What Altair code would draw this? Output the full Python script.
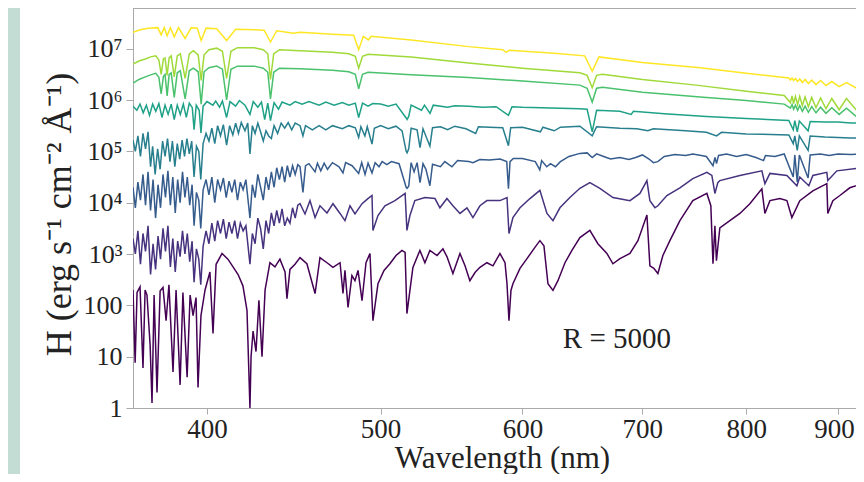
import altair as alt
import pandas as pd

# Each spectrum: [wavelength (nm), log10 H] pairs
s8_yellow = [[363.7,7.32],[367.0,7.37],[371.0,7.40],[375.5,7.41],[377.1,7.27],[378.6,7.41],[380.0,7.25],[381.6,7.41],[383.5,7.23],[385.6,7.41],[388.9,7.20],[392.0,7.41],[395.0,7.40],[397.0,7.16],[399.5,7.40],[405.0,7.39],[410.2,7.16],[415.0,7.38],[425.0,7.37],[430.5,7.36],[434.0,7.13],[437.5,7.35],[447.1,7.30],[450.8,7.32],[470.0,7.28],[483.0,7.26],[486.1,6.98],[489.0,7.24],[492.2,7.17],[494.0,7.24],[520.0,7.17],[560.0,7.04],[585.0,6.98],[587.6,6.93],[590.0,6.97],[625.0,6.91],[650.0,6.86],[656.3,6.56],[662.0,6.84],[700.0,6.73],[754.0,6.63],[800.0,6.52],[845.0,6.43],[846.7,6.39],[848.5,6.43],[850.2,6.38],[852.2,6.42],[854.6,6.36],[857.0,6.41],[859.8,6.34],[862.8,6.40],[866.5,6.32],[870.2,6.39],[875.0,6.30],[880.2,6.38],[886.3,6.28],[893.0,6.36],[901.5,6.26],[910.0,6.34],[922.9,6.22],[927.5,6.32],[930.8,6.32]]

s7_yellowgreen = [[363.7,6.70],[366.5,6.76],[369.5,6.80],[372.0,6.84],[374.5,6.86],[376.0,6.78],[377.1,6.50],[378.2,6.80],[379.0,6.82],[380.0,6.48],[381.0,6.82],[382.0,6.86],[383.5,6.45],[385.0,6.86],[386.5,6.90],[388.9,6.42],[391.0,6.90],[393.0,6.96],[395.5,6.88],[397.0,6.38],[398.5,6.88],[401.0,6.98],[405.0,7.01],[408.0,6.95],[410.2,6.42],[412.5,6.95],[416.0,7.02],[425.0,7.02],[430.0,6.98],[432.5,6.90],[434.0,6.40],[435.8,6.90],[439.0,6.98],[450.8,6.96],[470.0,6.93],[480.0,6.90],[484.0,6.85],[486.1,6.62],[488.5,6.85],[492.0,6.89],[520.0,6.84],[560.0,6.72],[600.0,6.62],[646.0,6.53],[652.0,6.48],[656.3,6.24],[660.0,6.48],[665.0,6.50],[700.0,6.40],[750.0,6.29],[800.0,6.17],[840.0,6.09],[846.7,5.95],[848.5,6.08],[850.2,5.93],[852.2,6.07],[854.6,5.91],[856.9,6.07],[859.8,5.89],[862.8,6.06],[866.5,5.87],[870.2,6.05],[875.0,5.85],[880.2,6.04],[886.3,5.83],[893.0,6.03],[901.5,5.81],[910.0,6.03],[922.9,5.78],[927.5,6.02],[930.8,6.02]]

s6_green = [[363.7,6.33],[366.5,6.40],[369.5,6.45],[372.0,6.49],[374.5,6.52],[376.0,6.44],[377.1,6.12],[378.2,6.46],[379.0,6.50],[380.0,6.08],[381.0,6.50],[382.0,6.53],[383.5,6.05],[385.0,6.53],[386.5,6.57],[388.9,6.02],[391.0,6.57],[393.0,6.62],[395.5,6.55],[397.0,5.92],[398.5,6.55],[401.0,6.63],[405.0,6.66],[408.0,6.60],[410.2,6.00],[412.5,6.60],[416.0,6.66],[425.0,6.66],[430.0,6.62],[432.5,6.54],[434.0,6.02],[435.8,6.54],[439.0,6.62],[450.8,6.61],[470.0,6.58],[480.0,6.55],[484.0,6.50],[486.1,6.22],[488.5,6.50],[492.0,6.54],[520.0,6.49],[560.0,6.44],[600.0,6.37],[646.0,6.29],[652.0,6.23],[656.3,5.96],[660.0,6.23],[665.0,6.25],[700.0,6.15],[754.0,6.06],[800.0,5.99],[840.0,5.92],[846.7,5.84],[848.5,5.91],[850.2,5.82],[852.2,5.90],[854.6,5.80],[856.9,5.89],[859.8,5.78],[862.8,5.88],[866.5,5.76],[870.2,5.87],[875.0,5.75],[880.2,5.86],[886.3,5.74],[893.0,5.85],[901.5,5.72],[910.0,5.84],[922.9,5.66],[927.5,5.83],[930.8,5.83]]

s5_tealgreen = [[363.7,5.88],[365.5,5.80],[367.0,5.92],[368.5,5.75],[370.0,5.90],[371.5,5.70],[373.0,5.92],[374.5,5.78],[376.0,5.93],[377.5,5.66],[379.0,5.90],[380.5,5.72],[382.0,5.92],[383.5,5.62],[385.0,5.90],[386.5,5.72],[388.0,5.92],[389.5,5.66],[391.0,5.94],[392.5,5.85],[393.4,5.42],[394.5,5.90],[396.0,5.80],[396.9,5.36],[398.0,5.88],[400.0,5.97],[403.0,5.90],[404.5,5.98],[406.5,5.86],[408.0,5.98],[410.2,5.66],[412.0,5.97],[415.0,5.88],[417.0,5.99],[420.0,5.90],[422.7,5.72],[424.5,5.97],[427.0,5.86],[429.0,5.96],[430.8,5.62],[432.5,5.94],[434.0,5.60],[436.0,5.95],[438.5,5.82],[440.5,5.96],[445.0,5.90],[448.0,5.97],[452.0,5.92],[456.0,5.97],[462.0,5.90],[466.0,5.96],[471.0,5.90],[476.0,5.95],[480.0,5.90],[484.0,5.94],[486.1,5.66],[488.5,5.94],[492.0,5.88],[495.0,5.93],[500.0,5.92],[505.0,5.88],[510.0,5.92],[516.7,5.65],[517.3,5.62],[518.4,5.68],[520.0,5.90],[527.0,5.80],[529.0,5.90],[532.8,5.74],[535.0,5.90],[545.0,5.86],[550.0,5.89],[560.0,5.88],[570.0,5.86],[580.0,5.87],[589.3,5.70],[592.0,5.87],[600.0,5.86],[615.0,5.85],[630.0,5.84],[646.0,5.83],[652.0,5.82],[656.3,5.38],[660.0,5.80],[680.0,5.78],[690.0,5.72],[692.0,5.78],[720.0,5.73],[760.0,5.68],[800.0,5.64],[845.0,5.60],[849.8,5.42],[851.5,5.60],[854.2,5.38],[856.5,5.59],[866.2,5.40],[868.5,5.58],[885.0,5.57],[900.0,5.57],[915.0,5.55],[930.8,5.55]]

s4_teal = [[363.7,5.22],[364.8,5.00],[366.0,5.30],[367.2,4.90],[368.4,5.35],[369.6,5.05],[370.8,5.38],[372.0,4.70],[373.0,5.10],[374.2,4.55],[375.4,5.05],[376.6,4.65],[377.8,5.20],[379.0,4.90],[380.2,5.25],[381.4,4.80],[382.6,5.20],[383.8,4.70],[385.0,5.15],[386.2,4.85],[387.4,5.22],[388.6,4.90],[389.8,5.25],[391.0,4.95],[392.2,5.20],[393.4,4.50],[394.6,5.10],[395.8,5.00],[396.8,4.45],[398.0,5.15],[399.5,5.35],[401.0,5.20],[402.5,5.45],[404.0,5.15],[405.5,5.50],[407.0,5.30],[408.5,5.52],[410.2,5.12],[411.8,5.50],[413.5,5.32],[415.0,5.55],[416.5,5.35],[418.0,5.56],[420.0,5.40],[421.5,5.55],[422.7,4.95],[424.0,5.50],[425.5,5.35],[427.0,5.55],[428.5,5.38],[430.0,5.20],[431.5,5.40],[433.0,5.30],[434.5,5.25],[436.0,5.50],[438.0,5.35],[440.0,5.55],[442.0,5.45],[444.0,5.56],[446.0,5.42],[448.0,5.55],[450.8,5.50],[452.5,5.30],[454.0,5.50],[458.0,5.42],[462.0,5.50],[466.0,5.42],[470.0,5.50],[476.0,5.44],[480.0,5.50],[484.0,5.46],[486.1,5.27],[487.5,5.48],[490.0,5.30],[491.5,5.48],[494.5,5.14],[496.0,5.45],[500.0,5.50],[505.0,5.44],[510.0,5.49],[514.0,5.40],[516.7,5.00],[517.3,4.97],[518.4,5.05],[520.0,5.45],[524.0,5.42],[526.0,5.07],[528.0,5.44],[532.7,5.10],[534.5,5.46],[540.0,5.48],[545.0,5.42],[550.0,5.49],[558.0,5.44],[565.0,5.35],[567.0,5.48],[575.0,5.47],[585.0,5.46],[589.3,5.11],[591.0,5.46],[600.0,5.47],[614.0,5.38],[616.0,5.47],[625.0,5.40],[630.0,5.47],[646.0,5.49],[656.3,5.30],[660.0,5.48],[680.0,5.45],[695.0,5.44],[705.0,5.40],[710.0,5.44],[740.0,5.40],[760.0,5.37],[770.0,5.30],[775.0,5.37],[800.0,5.34],[845.0,5.32],[849.8,5.15],[851.5,5.30],[854.2,5.02],[856.5,5.30],[866.2,5.02],[868.5,5.30],[885.0,5.28],[900.0,5.27],[915.0,5.26],[930.8,5.26]]

s3_blue = [[363.7,4.30],[364.8,3.90],[366.0,4.40],[367.2,4.05],[368.4,4.55],[369.6,3.95],[370.8,4.60],[372.0,3.85],[373.2,4.45],[374.4,3.70],[375.6,4.35],[376.8,3.90],[378.0,4.55],[379.2,4.10],[380.4,4.62],[381.6,3.95],[382.8,4.50],[384.0,3.80],[385.2,4.45],[386.4,4.00],[387.6,4.60],[388.8,4.10],[390.0,4.50],[391.2,3.95],[392.4,4.35],[393.4,3.55],[394.6,4.20],[395.8,4.05],[396.8,3.50],[398.0,4.25],[399.5,4.45],[401.0,4.15],[402.5,4.50],[404.0,4.00],[405.5,4.45],[407.0,4.25],[408.5,4.48],[410.0,4.10],[411.5,4.42],[413.0,4.20],[414.5,4.45],[416.0,4.05],[417.5,4.40],[419.0,4.25],[420.5,4.45],[422.7,3.70],[424.0,4.35],[425.5,4.10],[427.0,4.55],[428.5,4.30],[430.0,4.05],[431.5,4.50],[433.0,4.25],[434.5,4.60],[436.0,4.30],[437.5,4.68],[439.0,4.45],[440.5,4.70],[442.0,4.40],[443.5,4.72],[445.0,4.50],[446.5,4.72],[448.0,4.55],[449.5,4.74],[450.8,4.70],[452.5,4.20],[454.0,4.72],[456.0,4.76],[459.6,4.60],[461.0,4.77],[463.0,4.62],[465.0,4.77],[467.0,4.65],[470.0,4.78],[474.0,4.70],[476.4,4.58],[478.0,4.78],[482.0,4.72],[486.1,4.57],[488.0,4.78],[490.1,4.55],[492.0,4.77],[494.5,4.58],[496.5,4.78],[499.0,4.70],[501.0,4.80],[504.0,4.74],[507.0,4.80],[512.0,4.76],[516.7,4.30],[517.3,4.28],[518.4,4.32],[520.0,4.78],[522.0,4.60],[524.0,4.78],[526.0,4.39],[528.0,4.76],[530.0,4.65],[532.7,4.33],[534.5,4.75],[540.0,4.70],[543.0,4.80],[548.0,4.70],[552.0,4.82],[560.0,4.80],[563.0,4.78],[568.0,4.84],[575.0,4.83],[583.0,4.85],[588.0,4.80],[589.3,4.27],[590.5,4.80],[593.0,4.86],[600.0,4.86],[610.0,4.80],[613.5,4.64],[615.0,4.82],[619.0,4.70],[622.0,4.76],[626.0,4.70],[630.0,4.80],[637.0,4.90],[646.0,4.96],[652.0,4.97],[656.3,4.88],[660.0,4.95],[666.0,4.90],[672.0,4.85],[680.0,4.88],[688.0,4.84],[694.0,4.88],[700.0,4.93],[706.0,4.85],[710.0,4.78],[714.0,4.80],[720.0,4.90],[730.0,4.94],[740.0,4.92],[747.0,4.95],[755.0,4.92],[760.0,4.90],[766.5,4.72],[768.5,4.88],[770.0,4.76],[772.0,4.92],[780.0,4.95],[790.0,4.90],[800.0,4.94],[810.0,4.88],[818.0,4.82],[820.0,4.92],[830.0,4.90],[840.0,4.95],[849.8,4.50],[851.5,4.93],[854.2,4.40],[856.5,4.93],[866.2,4.48],[868.5,4.93],[880.0,4.95],[890.0,4.92],[900.0,4.95],[915.0,4.94],[930.8,4.95]]

s2_indigo = [[363.7,3.30],[364.8,3.00],[366.0,3.45],[367.2,2.80],[368.4,3.40],[369.6,3.05],[370.8,3.55],[372.0,2.60],[373.2,3.20],[374.4,2.70],[375.6,3.35],[376.8,2.90],[378.0,3.50],[379.2,3.05],[380.4,3.55],[381.6,2.75],[382.8,3.30],[384.0,2.65],[385.2,3.25],[386.4,2.95],[387.6,3.45],[388.8,3.00],[390.0,3.40],[391.2,2.85],[392.4,3.25],[393.4,2.45],[394.6,3.10],[395.8,2.90],[396.8,2.40],[398.0,3.15],[399.5,3.45],[401.0,3.20],[402.5,3.60],[404.0,3.25],[405.5,3.65],[407.0,3.40],[408.5,3.68],[410.0,3.30],[411.5,3.62],[413.0,3.40],[414.5,3.65],[416.0,3.30],[417.5,3.60],[419.0,3.45],[420.5,3.55],[422.7,2.80],[424.0,3.40],[425.5,3.20],[427.0,3.70],[428.5,3.50],[430.0,3.10],[431.5,3.65],[433.0,3.40],[434.5,3.80],[436.0,3.55],[437.5,3.85],[439.0,3.60],[440.5,3.88],[442.0,3.55],[443.5,3.70],[445.0,3.60],[446.5,3.90],[448.0,3.70],[449.5,3.95],[450.8,3.98],[453.7,3.78],[456.6,4.04],[459.6,3.71],[462.5,3.94],[466.7,3.80],[470.3,3.98],[474.6,3.79],[477.6,3.65],[480.7,3.94],[483.8,3.78],[488.2,3.98],[491.9,4.08],[494.5,4.14],[495.1,3.46],[498.3,3.75],[502.8,3.94],[509.3,4.04],[516.0,4.18],[517.2,3.46],[519.2,3.75],[522.5,4.04],[529.3,4.10],[536.2,4.08],[539.6,3.90],[544.5,4.08],[548.7,3.94],[553.7,3.79],[558.7,3.90],[563.0,3.71],[568.1,3.94],[573.2,4.04],[582.9,4.04],[588.2,4.10],[589.7,3.40],[592.7,3.71],[598.1,3.90],[605.8,4.08],[613.6,4.24],[619.2,3.79],[624.0,3.65],[629.6,3.90],[637.7,4.10],[646.0,4.28],[654.3,4.39],[662.8,4.28],[674.0,4.10],[688.9,4.04],[697.8,4.18],[704.1,4.43],[706.8,4.04],[711.4,3.90],[714.1,3.94],[722.4,4.14],[734.6,4.29],[746.9,4.47],[760.5,4.59],[765.4,4.53],[768.4,4.18],[771.3,4.39],[773.3,4.43],[793.5,4.53],[816.2,4.62],[819.4,4.37],[824.7,4.57],[842.9,4.53],[853.8,4.33],[857.0,4.50],[867.0,4.33],[871.5,4.53],[887.3,4.59],[888.4,4.43],[898.8,4.62],[929.3,4.68],[930.8,4.68]]

s1_purple = [[363.7,2.30],[364.7,0.88],[365.6,2.25],[367.0,2.36],[368.4,0.78],[369.4,2.30],[370.3,2.20],[371.8,1.22],[372.7,0.10],[373.7,2.20],[375.1,0.30],[376.6,2.28],[378.0,2.35],[379.5,1.70],[380.9,2.40],[382.9,0.70],[384.4,2.30],[386.4,0.45],[387.8,2.25],[389.9,0.60],[391.4,2.20],[392.9,1.80],[394.4,2.15],[395.4,0.40],[396.9,1.80],[399.0,2.30],[401.5,2.65],[403.1,1.45],[404.7,2.80],[407.8,3.01],[410.9,2.90],[413.6,2.75],[416.3,2.60],[418.9,2.38],[421.1,1.90],[422.7,0.00],[423.3,1.00],[424.4,1.50],[426.0,1.10],[427.6,2.10],[429.3,1.00],[431.0,2.30],[433.7,2.83],[436.5,2.75],[439.3,2.90],[442.2,2.65],[443.3,2.13],[445.0,2.70],[447.9,2.80],[450.8,2.93],[454.8,2.81],[459.6,2.23],[462.5,2.93],[466.7,2.83],[470.3,2.74],[474.6,2.83],[476.4,2.23],[477.6,2.68],[479.5,1.96],[481.9,2.58],[483.8,2.48],[485.7,2.68],[488.2,2.09],[490.7,2.83],[493.2,3.01],[495.1,1.70],[498.3,2.42],[502.2,2.68],[506.0,2.81],[510.0,2.97],[513.9,3.07],[516.0,3.03],[517.2,1.84],[519.2,2.29],[521.2,2.74],[525.9,3.07],[529.3,2.83],[532.7,3.07],[537.6,2.97],[541.7,3.10],[544.5,2.95],[548.7,2.62],[553.7,3.01],[557.3,2.77],[560.8,2.48],[564.5,2.64],[568.1,2.74],[573.2,2.83],[577.7,2.77],[582.9,3.01],[586.7,2.83],[588.2,2.42],[589.7,1.70],[591.2,2.29],[592.7,2.42],[598.1,2.72],[603.5,2.91],[609.7,3.13],[613.6,3.26],[616.8,3.16],[620.0,2.42],[624.0,2.29],[628.0,2.48],[633.7,2.83],[639.4,3.07],[646.0,3.32],[654.3,3.46],[661.1,3.20],[668.8,3.01],[674.0,2.81],[680.1,2.91],[688.9,3.01],[696.0,3.26],[704.1,3.76],[706.8,2.77],[710.4,2.72],[714.1,2.62],[718.7,2.97],[725.2,3.26],[734.6,3.65],[746.9,4.04],[760.5,4.18],[764.4,3.94],[766.5,2.81],[768.4,3.55],[769.9,2.87],[773.3,3.51],[783.3,3.65],[793.5,3.79],[803.7,3.98],[816.2,4.27],[819.4,3.79],[824.7,4.04],[835.3,4.08],[842.9,4.04],[848.3,3.71],[857.0,4.04],[871.5,4.23],[887.3,4.37],[888.4,3.79],[894.2,4.04],[902.3,4.14],[913.9,4.29],[929.3,4.37],[930.8,4.37]]

series_names = ["S1", "S2", "S3", "S4", "S5", "S6", "S7", "S8"]
series_points = [s1_purple, s2_indigo, s3_blue, s4_teal, s5_tealgreen, s6_green, s7_yellowgreen, s8_yellow]
series_colors = ["#440154", "#46327e", "#365c8d", "#277f8e", "#1fa187", "#4ac16d", "#a0da39", "#fde725"]

x_ticks = [400, 500, 600, 700, 800, 900]
y_ticks = [1, 10, 100, 1e3, 1e4, 1e5, 1e6, 1e7]
y_tick_labels = ["1", "10", "100", "10³", "10⁴", "10⁵", "10⁶", "10⁷"]

rows = []
for name, pts in zip(series_names, series_points):
    for wl, lg in pts:
        rows.append({"series": name, "wavelength": wl, "H": 10 ** lg})
df = pd.DataFrame(rows)

FONT = "Liberation Serif"
FRAME = "#aaaaaa"
W, H = 723, 400
label_js = "[" + ",".join("'%s'" % t for t in y_tick_labels) + "][round(log(datum.value)/LN10)]"

xscale = alt.Scale(type="log", domain=[363.7, 921.2], nice=False, zero=False)
yscale = alt.Scale(type="log", domain=[1, 6.2e7], nice=False)

lines = alt.Chart(df).mark_line(strokeWidth=1.5, clip=True).encode(
    x=alt.X("wavelength:Q", scale=xscale,
            axis=alt.Axis(values=x_ticks, format="d", title="Wavelength (nm)",
                          titleX=369, titleY=59, titleBaseline="alphabetic",
                          labelFontSize=27, titleFontSize=31, tickSize=6, labelPadding=2,
                          labelOffset={"condition": {"test": "datum.value === 900", "value": -4}, "value": 0})),
    y=alt.Y("H:Q", scale=yscale,
            axis=alt.Axis(values=y_ticks, labelExpr=label_js, title="H (erg s⁻¹ cm⁻² Å⁻¹)",
                          titleX=-74, titleY=206, titleAngle=270, titleAlign="center",
                          titleBaseline="middle", labelFontSize=26, titleFontSize=36,
                          tickSize=7, labelPadding=4)),
    color=alt.Color("series:N", scale=alt.Scale(domain=series_names, range=series_colors), legend=None),
)

note = alt.Chart(pd.DataFrame({"x": [632.0], "y": [15.0], "t": ["R = 5000"]})).mark_text(
    align="left", baseline="alphabetic", font=FONT, fontSize=29, color="#222222"
).encode(x=alt.X("x:Q", scale=xscale), y=alt.Y("y:Q", scale=yscale), text="t:N")

one = pd.DataFrame({"k": [0]})
strip = alt.Chart(one).mark_rect(color="#c3ddd4").encode(
    x=alt.value(-125), x2=alt.value(-113), y=alt.value(0), y2=alt.value(466)
)
top_border = alt.Chart(one).mark_rule(color=FRAME, strokeWidth=1).encode(
    x=alt.value(0), x2=alt.value(W), y=alt.value(0.5)
)

chart = alt.layer(strip, top_border, lines, note).properties(
    width=W, height=H,
    autosize=alt.AutoSizeParams(type="none"),
    padding={"left": 125, "top": 0, "right": 0, "bottom": 66},
).configure_view(strokeWidth=0).configure_axis(
    grid=False, domainColor=FRAME, tickColor=FRAME,
    labelFont=FONT, titleFont=FONT, labelColor="#222222", titleColor="#222222",
    titleFontWeight="normal",
)

chart.save("out.html", embed_options={"renderer": "svg", "actions": False})
